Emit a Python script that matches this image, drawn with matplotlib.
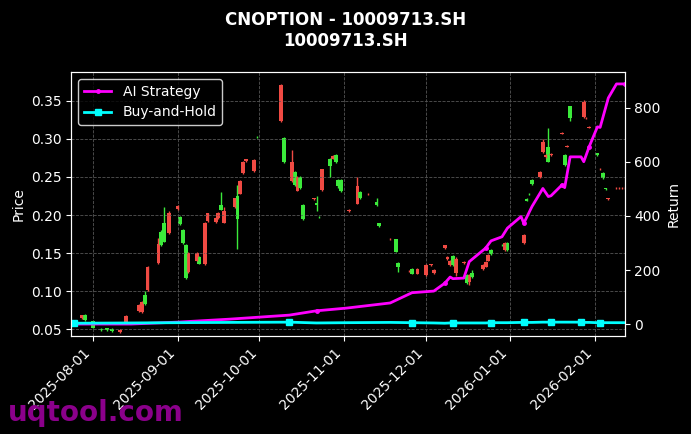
import matplotlib
matplotlib.use("Agg")
import matplotlib.pyplot as plt
import matplotlib.dates as mdates
import pandas as pd

# candles: date, open, high, low, close  (red = up, green = down)
dates = ["2025-07-25", "2025-07-28", "2025-07-29", "2025-08-01", "2025-08-04", "2025-08-06", "2025-08-08",
         "2025-08-11", "2025-08-13", "2025-08-18", "2025-08-19", "2025-08-20", "2025-08-21", "2025-08-25",
         "2025-08-26", "2025-08-27", "2025-08-29", "2025-09-01", "2025-09-02", "2025-09-03", "2025-09-04",
         "2025-09-05", "2025-09-08", "2025-09-09", "2025-09-11", "2025-09-12", "2025-09-15", "2025-09-16",
         "2025-09-17", "2025-09-18", "2025-09-22", "2025-09-23", "2025-09-24", "2025-09-25", "2025-09-26",
         "2025-09-29", "2025-09-30", "2025-10-09", "2025-10-10", "2025-10-13", "2025-10-14", "2025-10-15",
         "2025-10-16", "2025-10-17", "2025-10-21", "2025-10-22", "2025-10-23", "2025-10-24", "2025-10-27",
         "2025-10-28", "2025-10-29", "2025-10-30", "2025-10-31", "2025-11-03", "2025-11-06", "2025-11-07",
         "2025-11-10", "2025-11-13", "2025-11-14", "2025-11-18", "2025-11-20", "2025-11-21", "2025-11-25",
         "2025-11-26", "2025-11-28", "2025-12-01", "2025-12-03", "2025-12-04", "2025-12-08", "2025-12-09",
         "2025-12-10", "2025-12-11", "2025-12-12", "2025-12-15", "2025-12-16", "2025-12-17", "2025-12-18",
         "2025-12-22", "2025-12-23", "2025-12-24", "2025-12-25", "2025-12-29", "2025-12-30", "2025-12-31",
         "2026-01-06", "2026-01-07", "2026-01-08", "2026-01-09", "2026-01-12", "2026-01-13", "2026-01-14",
         "2026-01-15", "2026-01-16", "2026-01-20", "2026-01-21", "2026-01-22", "2026-01-23", "2026-01-28",
         "2026-01-29", "2026-01-30", "2026-02-02", "2026-02-03", "2026-02-04", "2026-02-05", "2026-02-06",
         "2026-02-09", "2026-02-10", "2026-02-11", "2026-02-12"]
opens = [.056, .064, .068, .060, .050, .051, .050, .046, .058, .074, .072, .095, .101, .137, .178, .190, .176,
         .208, .198, .180, .161, .125, .140, .145, .135, .192, .191, .196, .213, .190, .210, .225, .228, .255,
         .271, .258, .303, .323, .301, .245, .257, .232, .250, .213, .221, .216, .198, .233, .274, .274, .279,
         .246, .246, .205, .215, .230, .227, .217, .189, .168, .168, .137, .126, .129, .123, .121, .134, .124,
         .156, .142, .134, .146, .124, .137, .121, .112, .124, .129, .132, .140, .154, .161, .154, .163, .163,
         .221, .228, .246, .250, .283, .276, .290, .279, .307, .279, .290, .343, .329, .327, .315, .281, .260,
         .255, .235, .221, .235, .235, .235, .235]
closes = [.058, .068, .062, .052, .049, .049, .047, .049, .067, .081, .085, .083, .132, .162, .160, .165, .202,
          .212, .188, .163, .117, .150, .150, .136, .190, .202, .196, .203, .207, .205, .222, .195, .245, .270,
          .273, .272, .302, .371, .270, .270, .239, .250, .235, .195, .222, .213, .197, .260, .264, .278, .270,
          .238, .231, .207, .238, .222, .228, .213, .185, .169, .152, .132, .127, .123, .129, .134, .135, .128,
          .160, .145, .140, .134, .142, .138, .110, .121, .118, .134, .138, .148, .149, .160, .163, .154, .174,
          .219, .227, .241, .257, .296, .279, .270, .280, .308, .266, .291, .327, .349, .328, .316, .279, .261,
          .249, .234, .222, .236, .236, .236, .236]
highs = [.060, .069, .070, .061, .051, .052, .051, .050, .068, .083, .087, .100, .133, .170, .180, .210, .205,
         .213, .199, .181, .162, .151, .151, .146, .191, .203, .197, .204, .230, .210, .223, .240, .246, .271,
         .274, .273, .304, .372, .302, .285, .258, .251, .251, .214, .223, .225, .199, .261, .275, .279, .280,
         .247, .247, .208, .250, .231, .229, .222, .190, .170, .169, .138, .128, .130, .130, .135, .136, .129,
         .161, .146, .141, .147, .145, .139, .122, .122, .128, .135, .139, .149, .155, .162, .164, .164, .175,
         .222, .229, .247, .258, .300, .280, .315, .281, .309, .280, .292, .344, .351, .329, .317, .282, .262,
         .256, .236, .223, .237, .237, .237, .237]
lows = [.054, .063, .061, .051, .048, .048, .046, .045, .057, .073, .071, .082, .100, .136, .159, .164, .175,
        .207, .187, .162, .116, .124, .139, .135, .134, .191, .190, .195, .206, .189, .209, .155, .227, .254,
        .270, .257, .301, .322, .269, .244, .238, .231, .234, .194, .220, .205, .196, .232, .250, .273, .269,
        .235, .230, .204, .214, .221, .226, .212, .184, .167, .151, .125, .125, .122, .122, .120, .133, .123,
        .155, .141, .133, .133, .120, .136, .109, .108, .117, .128, .131, .139, .148, .159, .153, .153, .162,
        .218, .226, .240, .249, .282, .275, .270, .278, .306, .265, .289, .323, .328, .326, .314, .278, .259,
        .248, .233, .220, .234, .234, .234, .234]

# strategy returns (%)
ret_dates = ["2025-07-25", "2025-08-15", "2025-09-01", "2025-09-20", "2025-10-12", "2025-10-22", "2025-11-02",
             "2025-11-18", "2025-11-26", "2025-12-04", "2025-12-08", "2025-12-10", "2025-12-11", "2025-12-15",
             "2025-12-17", "2025-12-23", "2025-12-25", "2025-12-29", "2025-12-31", "2026-01-05", "2026-01-06",
             "2026-01-09", "2026-01-13", "2026-01-15", "2026-01-16", "2026-01-20", "2026-01-21", "2026-01-23",
             "2026-01-27", "2026-01-28", "2026-01-30", "2026-02-02", "2026-02-03", "2026-02-06", "2026-02-09",
             "2026-02-12"]
ai_ret = [0, 0, 7, 18, 33, 49, 59, 78, 116, 122, 151, 174, 168, 170, 231, 281, 308, 323, 355, 398, 373, 435,
          502, 472, 475, 515, 505, 619, 619, 601, 657, 730, 728, 837, 889, 889]
bh_ret = [3, 4, 5, 6, 7, 4, 5, 6, 5, 4, 3, 4, 4, 4, 4, 4, 5, 5, 5, 6, 6, 6, 7, 7, 7, 7, 7, 7, 7, 6, 6, 5, 5,
          5, 5, 5]

df = pd.DataFrame({"o": opens, "h": highs, "l": lows, "c": closes}, index=pd.to_datetime(dates))
rd = pd.to_datetime(ret_dates)

fig = plt.figure(figsize=(6.91, 4.34), dpi=100, facecolor="black")
ax = fig.add_axes([0.103, 0.226, 0.801, 0.608], facecolor="black")
up, down = "#f04a43", "#3bea3b"
for d, r in df.iterrows():
    col = up if r.c >= r.o else down
    ax.vlines(d, r.l, r.h, color=col, lw=1)
    ax.bar(d, max(abs(r.c - r.o), 0.001), bottom=min(r.o, r.c), width=1.4, color=col)

ax.set_ylim(0.041, 0.388)
ax.set_xlim(pd.Timestamp("2025-07-24"), pd.Timestamp("2026-02-12"))
ax.set_ylabel("Price", color="white")
ax.grid(True, ls="--", color="#555555", lw=0.6)
ax.xaxis.set_major_locator(mdates.MonthLocator())
ax.xaxis.set_major_formatter(mdates.DateFormatter("%Y-%m-%d"))
plt.setp(ax.get_xticklabels(), rotation=45, ha="right")

ax2 = ax.twinx()
l1, = ax2.plot(rd, ai_ret, color="#ff00ff", lw=2, marker="o", ms=2.5, markevery=5, label="AI Strategy")
l2, = ax2.plot(rd, bh_ret, color="#00ffff", lw=2, marker="s", ms=4, markevery=4, label="Buy-and-Hold")
ax2.set_ylim(-44, 933)
ax2.set_ylabel("Return", color="white")

for a in (ax, ax2):
    a.tick_params(colors="white")
    for s in a.spines.values():
        s.set_color("white")

leg = ax.legend([l1, l2], ["AI Strategy", "Buy-and-Hold"], loc="upper left", facecolor="black",
                edgecolor="white", labelcolor="white")
fig.suptitle("CNOPTION - 10009713.SH\n10009713.SH", color="white", fontweight="bold", y=0.975)
fig.text(0.012, 0.03, "uqtool.com", color="#8b008b", fontsize=20, fontweight="bold")
fig.savefig("out.png", facecolor="black")
